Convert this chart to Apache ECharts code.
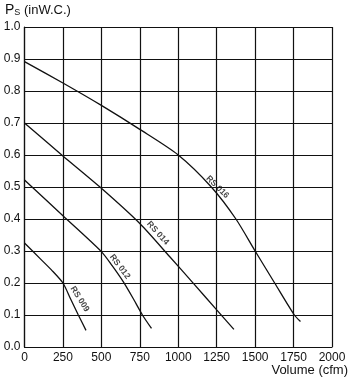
<!DOCTYPE html>
<html>
<head>
<meta charset="utf-8">
<script src="https://cdn.jsdelivr.net/npm/echarts@6/dist/echarts.min.js"></script>
<style>
  html, body { margin: 0; padding: 0; background: #fff; }
  #chart { width: 351px; height: 383px; }
</style>
</head>
<body>
<div id="chart"></div>
<script>
// fan curves: [volume cfm, static pressure inW.C.]
const rs009 = [[0, 0.325], [100, 0.277], [175, 0.241], [250, 0.2], [300, 0.15], [350, 0.1], [400, 0.052]];
const rs012 = [[0, 0.522], [250, 0.41], [500, 0.298], [570, 0.254], [642, 0.204], [705, 0.153], [767, 0.1], [826, 0.058]];
const rs014 = [[0, 0.7], [250, 0.597], [500, 0.496], [750, 0.386], [945, 0.282], [1100, 0.198], [1250, 0.116], [1362, 0.055]];
const rs016 = [[0, 0.892], [250, 0.825], [500, 0.755], [750, 0.68], [1000, 0.6], [1215, 0.5], [1375, 0.4], [1500, 0.3], [1627, 0.2], [1755, 0.1], [1795, 0.08]];

const curveNames = ["RS 009", "RS 012", "RS 014", "RS 016"];
// where each curve name sits, and its slant
const labelPos = [[360, 0.15], [620, 0.251], [867, 0.356], [1255, 0.5]];
const labelAngle = [-58, -53, -48, -45];

const xTicks = [0, 250, 500, 750, 1000, 1250, 1500, 1750, 2000];
const yTicks = [0, 0.1, 0.2, 0.3, 0.4, 0.5, 0.6, 0.7, 0.8, 0.9, 1.0];

const chart = echarts.init(document.getElementById("chart"));

const curveSeries = [rs009, rs012, rs014, rs016].map((d, i) => ({
    name: curveNames[i],
    type: "line",
    data: d,
    smooth: 0.25,
    showSymbol: false,
    lineStyle: { color: "#111", width: 1.3 },
    silent: true
}));

const labelSeries = {
    type: "scatter",
    symbolSize: 0,
    data: labelPos.map((p, i) => ({
        value: p,
        label: {
            show: true,
            formatter: curveNames[i],
            rotate: labelAngle[i],
            position: "inside",
            fontFamily: "Liberation Sans",
            fontWeight: "bold",
            fontSize: 8.5,
            color: "#111"
        }
    })),
    silent: true
};

const options = {
    animation: false,
    grid: { left: 24.5, right: 19, top: 27, bottom: 36 },
    xAxis: {
        type: "value",
        min: 0,
        max: 2000,
        interval: 250,
        axisLine: { show: true, lineStyle: { color: "#111", width: 1.2 } },
        axisTick: { show: false },
        splitLine: { show: true, lineStyle: { color: "#111", width: 1.2 } },
        axisLabel: {
            color: "#111",
            fontFamily: "Liberation Sans",
            fontSize: 12,
            margin: 5,
            formatter: v => (xTicks.includes(v) ? String(v) : "")
        }
    },
    yAxis: {
        type: "value",
        min: 0,
        max: 1,
        interval: 0.1,
        axisLine: { show: true, lineStyle: { color: "#111", width: 1.2 } },
        axisTick: { show: false },
        splitLine: { show: true, lineStyle: { color: "#111", width: 1.2 } },
        axisLabel: {
            color: "#111",
            fontFamily: "Liberation Sans",
            fontSize: 12,
            margin: 4,
            formatter: v => yTicks.some(t => Math.abs(t - v) < 1e-6) ? v.toFixed(1) : ""
        }
    },
    graphic: [
        {
            type: "text",
            left: 5,
            top: 3,
            style: {
                text: "{p|P}{s|S}{t| (inW.C.)}",
                rich: {
                    p: { fontFamily: "Liberation Sans", fontSize: 14, fill: "#111", verticalAlign: "bottom" },
                    s: { fontFamily: "Liberation Sans", fontSize: 9, fill: "#111", padding: [6, 0, 0, 0], verticalAlign: "bottom" },
                    t: { fontFamily: "Liberation Sans", fontSize: 13, fill: "#111", verticalAlign: "bottom" }
                }
            }
        },
        {
            type: "text",
            right: 3,
            top: 364,
            style: {
                text: "Volume (cfm)",
                fontFamily: "Liberation Sans",
                fontSize: 13,
                fill: "#111"
            }
        }
    ],
    series: [...curveSeries, labelSeries]
};

chart.setOption(options);
</script>
</body>
</html>
